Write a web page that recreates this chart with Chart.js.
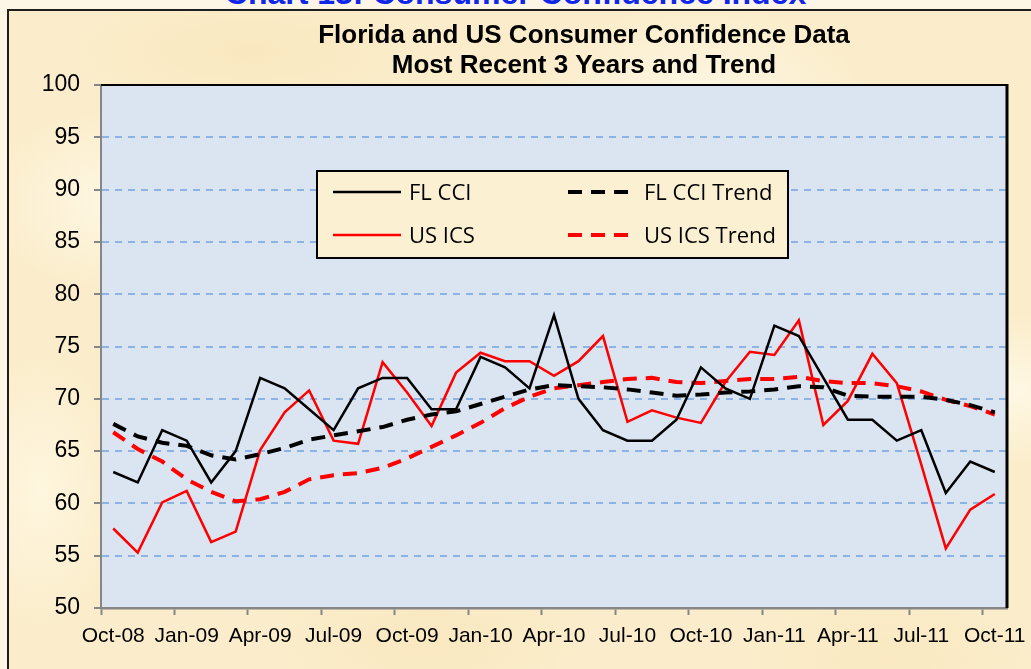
<!DOCTYPE html>
<html>
<head>
<meta charset="utf-8">
<script src="https://cdn.jsdelivr.net/npm/chart.js@4.4.1/dist/chart.umd.min.js"></script>
<style>
  html, body { margin: 0; padding: 0; }
  body { width: 1031px; height: 669px; overflow: hidden; position: relative; background: #fdf6e7; }
  #frame {
    position: absolute; left: 7px; top: 9px; width: 1100px; height: 700px;
    border-left: 2px solid #1e1e1e; border-top: 2px solid #1e1e1e;
    background-color: #fbedcb;
    background-image:
      radial-gradient(ellipse 200px 130px at 110px 190px, rgba(255,249,232,0.85), rgba(255,249,232,0) 70%),
      radial-gradient(ellipse 240px 140px at 690px 90px, rgba(255,250,236,0.75), rgba(255,250,236,0) 70%),
      radial-gradient(ellipse 220px 120px at 420px 630px, rgba(247,226,178,0.45), rgba(247,226,178,0) 70%),
      radial-gradient(ellipse 170px 110px at 1010px 380px, rgba(255,249,232,0.85), rgba(255,249,232,0) 70%),
      radial-gradient(ellipse 260px 90px at 240px 40px, rgba(246,224,172,0.4), rgba(246,224,172,0) 70%),
      radial-gradient(ellipse 220px 100px at 880px 650px, rgba(247,226,178,0.4), rgba(247,226,178,0) 70%),
      radial-gradient(ellipse 120px 200px at 30px 480px, rgba(255,248,228,0.8), rgba(255,248,228,0) 70%);
  }
  #page-title {
    position: absolute; left: 0; top: -23px; width: 1031px; text-align: center;
    font: bold 32px "Liberation Sans", Arial, sans-serif; line-height: 32px; color: #1026e8;
  }
  #wrap { position: absolute; left: 0; top: 0; width: 1031px; height: 669px; }
</style>
</head>
<body>
<div id="page-title">Chart 13: Consumer Confidence Index</div>
<div id="frame"></div>
<div id="wrap"><canvas id="chart" width="1031" height="669"></canvas></div>
<script>
// ── Data ──────────────────────────────────────────────────────────────────────

const months = ['Oct-08','Nov-08','Dec-08','Jan-09','Feb-09','Mar-09','Apr-09','May-09','Jun-09',
  'Jul-09','Aug-09','Sep-09','Oct-09','Nov-09','Dec-09','Jan-10','Feb-10','Mar-10','Apr-10',
  'May-10','Jun-10','Jul-10','Aug-10','Sep-10','Oct-10','Nov-10','Dec-10','Jan-11','Feb-11',
  'Mar-11','Apr-11','May-11','Jun-11','Jul-11','Aug-11','Sep-11','Oct-11'];

const flCci   = [63,62,67,66,62,65,72,71,69,67,71,72, 72,69,69,74,73,71,78,70,67,66,66,68,
                 73,71,70,77,76,72,68,68,66,67,61,64,63];
const usIcs   = [57.6,55.3,60.1,61.2,56.3,57.3,65.1,68.7,70.8,66.0,65.7,73.5,
                 70.6,67.4,72.5,74.4,73.6,73.6,72.2,73.6,76.0,67.8,68.9,68.2,
                 67.7,71.6,74.5,74.2,77.5,67.5,69.8,74.3,71.5,63.7,55.7,59.4,60.9];
const flTrend = [67.6,66.4,65.8,65.5,64.6,64.2,64.7,65.3,66.1,66.5,66.9,67.3,
                 68.0,68.5,68.8,69.5,70.2,70.9,71.3,71.2,71.1,70.9,70.6,70.3,
                 70.4,70.6,70.7,70.9,71.2,71.1,70.3,70.2,70.2,70.2,69.9,69.4,68.7];
const usTrend = [66.8,65.2,64.0,62.3,61.1,60.2,60.4,61.1,62.3,62.7,62.9,63.4,
                 64.3,65.4,66.5,67.7,69.1,70.2,71.0,71.3,71.6,71.9,72.0,71.6,
                 71.5,71.7,71.9,71.9,72.1,71.7,71.5,71.5,71.2,70.7,69.9,69.3,68.5];

const yMin = 50, yMax = 100, yStep = 5;
const titleLines = ['Florida and US Consumer Confidence Data', 'Most Recent 3 Years and Trend'];

// ── Styling ───────────────────────────────────────────────────────────────────

const AXIS_GRAY = '#868686';
const GRID_BLUE = '#8db3e2';
const PLOT_BG   = '#dbe5f1';
const TREND_DASH = [14, 9];
const SANS = '"Liberation Sans", Arial, sans-serif';

// plot background, frame lines, title and legend box
const chartDecor = {
  id: 'chartDecor',
  beforeDraw(chart) {
    const {ctx, chartArea: a} = chart;
    ctx.save();
    ctx.fillStyle = PLOT_BG;
    ctx.fillRect(a.left, a.top, a.right - a.left, a.bottom - a.top);
    ctx.restore();
  },
  afterDraw(chart) {
    const {ctx, chartArea: a} = chart;
    ctx.save();
    // top + right edge of plot area
    ctx.strokeStyle = '#000';
    ctx.lineWidth = 2;
    ctx.beginPath(); ctx.moveTo(a.left, a.top); ctx.lineTo(a.right, a.top); ctx.stroke();
    ctx.lineWidth = 3;
    ctx.beginPath(); ctx.moveTo(a.right, a.top - 1); ctx.lineTo(a.right, a.bottom); ctx.stroke();

    // title
    ctx.fillStyle = '#000';
    ctx.font = 'bold 26px ' + SANS;
    ctx.textAlign = 'center';
    ctx.textBaseline = 'alphabetic';
    ctx.fillText(titleLines[0], 584, 43);
    ctx.fillText(titleLines[1], 584, 73);

    // legend
    const box = {x: 317, y: 171, w: 471, h: 87};
    ctx.fillStyle = '#fcf0d3';
    ctx.fillRect(box.x, box.y, box.w, box.h);
    ctx.strokeStyle = '#000';
    ctx.lineWidth = 2;
    ctx.strokeRect(box.x, box.y, box.w, box.h);
    const cols = [333, 568], rows = [192, 235];
    ctx.font = '22px "Open Sans", sans-serif';
    ctx.textAlign = 'left';
    chart.data.datasets.forEach((ds, i) => {
      const x = cols[i % 2], y = rows[Math.floor(i / 2)];
      ctx.strokeStyle = ds.borderColor;
      ctx.lineWidth = ds.borderDash ? 4 : 2.5;
      ctx.setLineDash(ds.borderDash || []);
      ctx.beginPath(); ctx.moveTo(x, y); ctx.lineTo(x + 68, y); ctx.stroke();
      ctx.setLineDash([]);
      ctx.fillStyle = '#000';
      ctx.fillText(ds.label, x + 76, y + 8);
    });
    ctx.restore();
  }
};

const line = (label, data, color, dashed) => ({
  label, data,
  borderColor: color,
  borderWidth: dashed ? 4 : 2.5,
  borderDash: dashed ? TREND_DASH : undefined,
  borderCapStyle: 'butt',
  pointRadius: 0,
  tension: 0,
  fill: false
});

new Chart(document.getElementById('chart'), {
  type: 'line',
  data: {
    labels: months,
    datasets: [
      line('FL CCI', flCci, '#000000', false),
      line('FL CCI Trend', flTrend, '#000000', true),
      line('US ICS', usIcs, '#ff0000', false),
      line('US ICS Trend', usTrend, '#ff0000', true)
    ]
  },
  options: {
    responsive: false,
    animation: false,
    layout: {padding: {top: 85, right: 24, left: 0, bottom: 0}},
    plugins: {legend: {display: false}, title: {display: false}, tooltip: {enabled: false}},
    scales: {
      x: {
        type: 'category',
        offset: true,
        grid: {
          offset: true, drawOnChartArea: false, drawTicks: true, tickLength: 7, tickWidth: 2,
          tickColor: c => (c.index !== undefined && c.index % 3 === 0) ? AXIS_GRAY : 'transparent'
        },
        border: {color: AXIS_GRAY, width: 2.5},
        ticks: {
          autoSkip: false, maxRotation: 0, minRotation: 0, padding: 5, color: '#000',
          font: {family: SANS, size: 21, lineHeight: 1.5},
          callback: (v, i) => i % 3 === 0 ? months[i] : ''
        },
        afterFit: s => { s.height = 61; }
      },
      y: {
        min: yMin, max: yMax,
        ticks: {stepSize: yStep, padding: 14, color: '#000', font: {family: SANS, size: 23}},
        grid: {
          color: c => (c.tick && (c.tick.value === yMin || c.tick.value === yMax)) ? 'transparent' : GRID_BLUE,
          lineWidth: 2, tickLength: 7, tickWidth: 2, tickColor: AXIS_GRAY, tickBorderDash: []
        },
        border: {color: AXIS_GRAY, width: 2, dash: [7, 6]},
        afterFit: s => { s.width = 101; }
      }
    }
  },
  plugins: [chartDecor]
});
</script>
</body>
</html>
